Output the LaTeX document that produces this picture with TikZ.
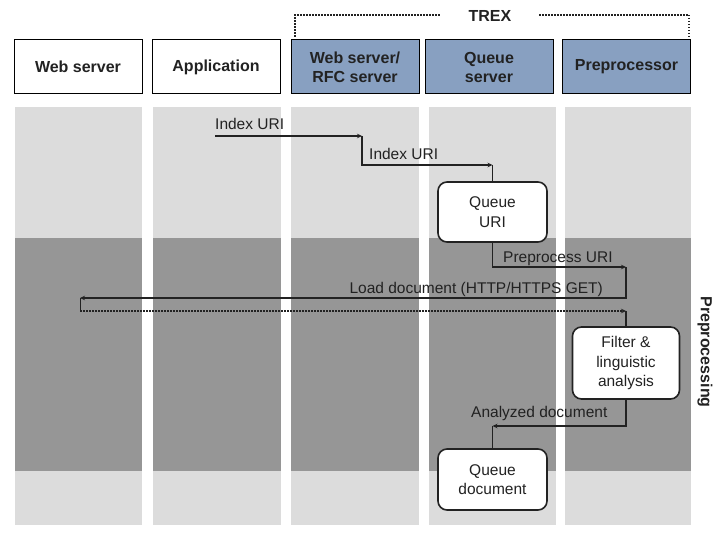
\documentclass[tikz,border=0pt]{standalone}
\usepackage{fontspec}
\setmainfont{Liberation Sans}
\usetikzlibrary{arrows.meta}
\definecolor{hdrblue}{RGB}{136,160,193}
\definecolor{lightcol}{RGB}{220,220,220}
\definecolor{darkcol}{RGB}{150,150,150}
\definecolor{ink}{RGB}{34,34,34}
\tikzset{
  hdr/.style={draw=black, line width=1pt, minimum width=128pt, minimum height=54pt, inner sep=0pt, align=center, font=\fontsize{16}{19}\selectfont\bfseries, text=ink},
  stepbox/.style={draw=ink, line width=1.6pt, rounded corners=9pt, fill=white, inner sep=0pt, align=center, font=\fontsize{15.5}{19.5}\selectfont, text=ink},
  flow/.style={draw=ink, line width=1.5pt},
  tip/.style={-{Stealth[length=5pt,width=4.5pt]}},
  lbl/.style={inner sep=0pt, font=\fontsize{15.5}{19}\selectfont, text=ink},
  dotline/.style={draw=ink, line width=1.5pt, dash pattern=on 1.5pt off 1.5pt},
}
\begin{document}
\begin{tikzpicture}[x=1pt,y=-1pt]
\useasboundingbox (0,0) rectangle (720,540);
% columns
\foreach \xa/\xb in {15/142,153/281,291/419,429/556,565/691}{
  \fill[lightcol] (\xa,107) rectangle (\xb,525);
  \fill[darkcol] (\xa,238) rectangle (\xb,471);
}
% headers
\node[hdr, fill=white] (ws) at (78,67) {Web server};
\node[hdr, fill=white] (app) at (216,67) {Application};
\node[hdr, fill=hdrblue] (rfc) at (355,67) {Web server/\\RFC server};
\node[hdr, fill=hdrblue] (qs) at (489,67) {Queue\\server};
\node[hdr, fill=hdrblue] (pre) at (626.5,67) {Preprocessor};
% TREX bracket
\node[inner sep=0pt, font=\fontsize{16}{19}\selectfont\bfseries, text=ink] (trex) at (490,16) {TREX};
\coordinate (tl) at (295,15);
\coordinate (tr) at (689,15);
\draw[dotline] (295,37) -- (tl) -- (440,15);
\draw[dotline] (539,15) -- (tr) -- (689,37);
% step boxes
\node[stepbox, minimum width=109pt, minimum height=60pt] (quri) at (492.5,212) {Queue\\URI};
\node[stepbox, minimum width=107pt, minimum height=72pt] (filt) at (626,363) {Filter \&\\linguistic\\analysis};
\node[stepbox, minimum width=109pt, minimum height=61pt] (qdoc) at (492.5,479.5) {Queue\\document};
% Index URI flow
\coordinate (s1) at (215,136);
\coordinate (c1) at (362,136);
\coordinate (c2) at (492.5,165);
\draw[flow, tip] (s1) -- (c1);
\draw[flow, tip] (c1) |- (c2);
\draw[flow] (c2) -- (quri.north);
\node[lbl, anchor=base west] (l1) at (215,130) {Index URI};
\node[lbl, anchor=base west] (l2) at (369,160) {Index URI};
% Preprocess URI
\coordinate (pp) at (626,267);
\draw[flow, tip] (quri.south) |- (pp);
\node[lbl, anchor=base west] (l3) at (503,262) {Preprocess URI};
% Load document
\coordinate (ld) at (80,298);
\coordinate (ldc) at (80,311);
\coordinate (rt) at (626,311);
\draw[flow, tip] (pp) |- (ld);
\node[lbl, anchor=base east] (l4) at (603,293) {Load document (HTTP/HTTPS GET)};
\draw[draw=ink, line width=1pt] (ld) -- (ldc);
\draw[dotline, tip] (ldc) -- (rt);
\draw[flow] (rt) -- (filt.north);
% Analyzed document
\coordinate (ad) at (492.5,426);
\draw[flow, tip] (filt.south) |- (ad);
\draw[flow] (ad) -- (qdoc.north);
\node[lbl, anchor=base west] (l5) at (471,417) {Analyzed document};
% Preprocessing label
\node[inner sep=0pt, rotate=-90, font=\fontsize{16}{19}\selectfont\bfseries, text=ink] (prep) at (705,352) {Preprocessing};
\end{tikzpicture}
\end{document}
